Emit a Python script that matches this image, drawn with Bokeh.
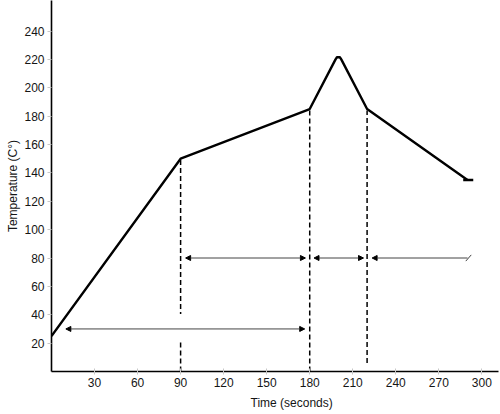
from bokeh.plotting import figure
from bokeh.models import Range1d, FixedTicker, ColumnDataSource, Arrow, NormalHead, Title
from bokeh.embed import file_html
from bokeh.resources import INLINE

# Temperature profile (time in seconds, temperature in °C)
time_s = [0, 90, 180, 198, 199, 201, 202, 220, 290]
temp_c = [25, 150, 185, 220, 221.5, 221.5, 220, 185, 135]

# end cap of the profile
cap_x = [287, 294]
cap_y = [135, 135]

# phase boundaries (dashed verticals)
phase_x = [90, 90, 180, 220]
phase_y0 = [149, 0, 184, 6]
phase_y1 = [40.5, 20.5, 0, 184]

# phase arrows
arrow_x0 = [93.5, 183, 10]
arrow_x1 = [177, 217.5, 176.5]
arrow_y = [80, 80, 30]
open_arrow_x0 = [223.5]
open_arrow_x1 = [290]
open_arrow_y = [80]

x_ticks = [30, 60, 90, 120, 150, 180, 210, 240, 270, 300]
y_ticks = [20, 40, 60, 80, 100, 120, 140, 160, 180, 200, 220, 240]

FONT = "'Liberation Sans Narrow', 'Arial Narrow', 'Liberation Sans', sans-serif"
TXT = "#151515"

p = figure(width=500, height=414, output_backend="svg", toolbar_location=None,
           x_range=Range1d(0, 311.6), y_range=Range1d(0, 261.5),
           min_border_left=51, min_border_right=2, min_border_top=0, min_border_bottom=43)
p.outline_line_color = None
p.xgrid.visible = False
p.ygrid.visible = False

for ax in (p.xaxis[0], p.yaxis[0]):
    ax.axis_line_color = "black"
    ax.axis_line_width = 1.6
    ax.major_tick_line_color = "#c8c8c8"
    ax.minor_tick_line_color = None
    ax.major_label_text_font = FONT
    ax.major_label_text_font_size = "12px"
    ax.major_label_text_color = TXT

p.xaxis.ticker = FixedTicker(ticks=x_ticks)
p.yaxis.ticker = FixedTicker(ticks=y_ticks)
p.xaxis.major_tick_in = 3
p.xaxis.major_tick_out = 3
p.yaxis.major_tick_in = 0
p.yaxis.major_tick_out = 4
p.xaxis.major_label_standoff = 3
p.yaxis.major_label_standoff = 3

# axis titles
p.add_layout(Title(text="Time (seconds)", align="left", offset=199, standoff=8,
                   text_font=FONT, text_font_size="12px", text_color=TXT,
                   text_font_style="normal"), "below")
p.add_layout(Title(text="Temperature (C°)", align="center", vertical_align="top", standoff=0,
                   text_font=FONT, text_font_size="12px", text_color=TXT,
                   text_font_style="normal"), "left")

# dashed phase boundaries
p.segment(x0=phase_x, y0=phase_y0, x1=phase_x, y1=phase_y1,
          line_color="black", line_width=1.5, line_dash="5 3")

# temperature curve
p.line(time_s, temp_c, line_color="black", line_width=2.4, line_join="round")
p.line(cap_x, cap_y, line_color="black", line_width=2.4)

# arrows
src = ColumnDataSource(dict(x0=arrow_x0, x1=arrow_x1, y=arrow_y))
p.add_layout(Arrow(x_start="x0", y_start="y", x_end="x1", y_end="y", source=src,
                   line_color="#444444", line_width=1,
                   start=NormalHead(size=5, fill_color="black", line_color="black", line_width=1),
                   end=NormalHead(size=5, fill_color="black", line_color="black", line_width=1)))
src2 = ColumnDataSource(dict(x0=open_arrow_x0, x1=open_arrow_x1, y=open_arrow_y))
p.add_layout(Arrow(x_start="x0", y_start="y", x_end="x1", y_end="y", source=src2,
                   line_color="#444444", line_width=1,
                   start=NormalHead(size=5, fill_color="black", line_color="black", line_width=1),
                   end=None))
# slash mark at the open end
p.segment(x0=[288.8], y0=[77.8], x1=[292.6], y1=[82.2], line_color="#444444", line_width=1)

open("out.html", "w").write(file_html(p, INLINE))
